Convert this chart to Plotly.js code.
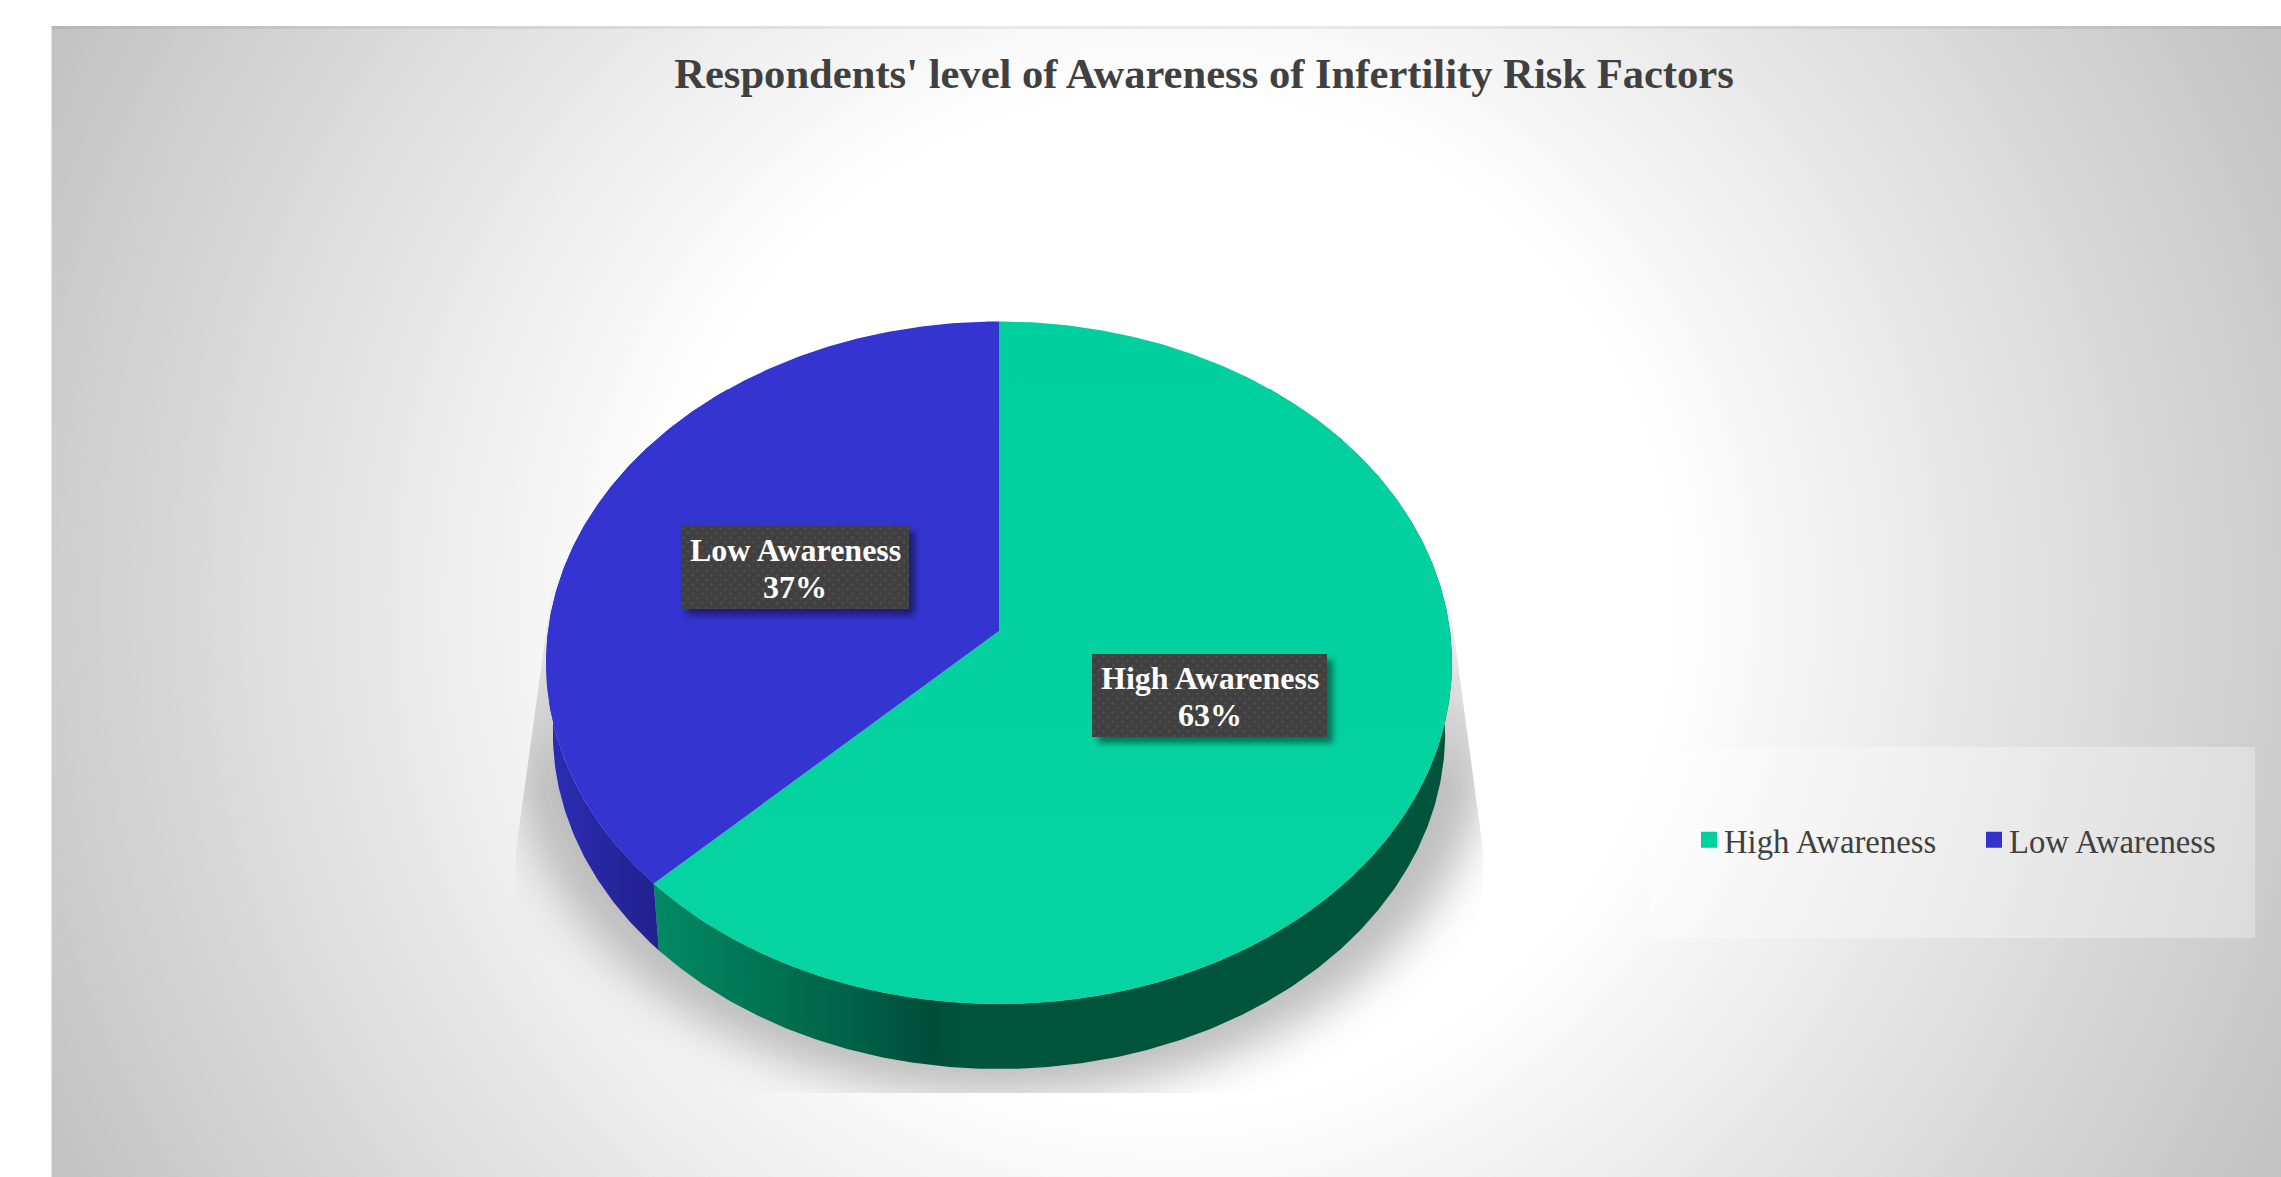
<!DOCTYPE html>
<html><head><meta charset="utf-8">
<script src="https://cdn.plot.ly/plotly-3.0.1.min.js"></script>
<style>html,body{margin:0;padding:0;background:#fff;overflow:hidden}#chart{width:2281px;height:1177px}</style>
</head><body><div id="chart"></div>
<script>
const chartTitle = "Respondents' level of Awareness of Infertility Risk Factors";
const categories = ["High Awareness", "Low Awareness"];
const shares = [62.7, 37.3];
const topColors = ["#03D2A0", "#3434D0"];
const legendColors = ["#00CF9E", "#3333CC"];
const W = 2281, H = 1177;
const FONT = "'Liberation Serif', serif";

// camera model for the tilted disc
const cam = {cx: 999, apexY: 631, rx: 451, ry: 338.3, k: 0.093, depth: 70.6, shrink: 0.985};
function rim(deg, lower) {
  const t = deg * Math.PI / 180, u = Math.sin(t), v = -Math.cos(t), d = 1 - cam.k * v;
  const s = lower ? cam.shrink : 1;
  return [cam.cx + s * cam.rx * u / d, cam.apexY + (lower ? cam.depth : 0) + s * cam.ry * v / d];
}
function arc(from, to, lower) {
  const n = Math.ceil(Math.abs(to - from) * 2), out = [];
  for (let i = 0; i <= n; i++) out.push(rim(from + (to - from) * i / n, lower));
  return out;
}
const total = shares.reduce((a, b) => a + b, 0);
const starts = [], ends = [];
shares.reduce((acc, s, i) => { starts[i] = acc; ends[i] = acc + s / total * 360; return ends[i]; }, 0);

function xy(pts) { return {x: pts.map(p => p[0]), y: pts.map(p => p[1])}; }
function cap(i) {
  return xy([[cam.cx, cam.apexY], ...arc(starts[i], ends[i], false), [cam.cx, cam.apexY]]);
}
function wall(a, b) {
  const up = arc(a, b, false), low = arc(b, a, true);
  return xy([...up, ...low, up[0]]);
}
const base = {type: "scatter", mode: "lines", fill: "toself", line: {width: 0}, hoverinfo: "skip", showlegend: false};
const split = ends[0];
const traces = [
  Object.assign({}, base, wall(40, split), {fillgradient: {type: "horizontal", start: 655, stop: 960,
    colorscale: [[0, "#008A64"], [0.4, "#00714F"], [0.72, "#005C44"], [0.9, "#004D38"], [1, "#00543C"]]}}),
  Object.assign({}, base, wall(split, 320), {fillgradient: {type: "horizontal", start: 550, stop: 664,
    colorscale: [[0, "#2C2CB4"], [0.6, "#25259C"], [1, "#20208C"]]}}),
  Object.assign({}, base, cap(0), {fillgradient: {type: "vertical", start: 321, stop: 1004,
    colorscale: [[0, "#00CF9E"], [1, "#06D4A2"]]}}),
  Object.assign({}, base, cap(1), {fillcolor: topColors[1]})
];
categories.forEach((c, i) => traces.push({type: "scatter", mode: "markers", x: [null], y: [null], name: c,
  marker: {symbol: "square", size: 16, color: legendColors[i]}, hoverinfo: "skip", showlegend: true}));

function uri(svg) { return "data:image/svg+xml;charset=utf-8," + encodeURIComponent(svg); }
const bgSvg = `<svg xmlns="http://www.w3.org/2000/svg" width="${W}" height="${H}" viewBox="0 0 ${W} ${H}">
<defs><radialGradient id="g" gradientUnits="userSpaceOnUse" cx="1166" cy="601" r="1254">
<stop offset="0.40" stop-color="#fff"/><stop offset="1" stop-color="#c2c2c2"/></radialGradient>
<filter id="b" x="-20%" y="-20%" width="140%" height="140%"><feGaussianBlur stdDeviation="22"/></filter>
<linearGradient id="mg" gradientUnits="userSpaceOnUse" x1="0" y1="582" x2="0" y2="790">
<stop offset="0" stop-color="#fff" stop-opacity="0.12"/><stop offset="1" stop-color="#fff" stop-opacity="1"/></linearGradient>
<mask id="m" maskUnits="userSpaceOnUse" x="0" y="0" width="${W}" height="${H}"><rect width="${W}" height="${H}" fill="url(#mg)"/></mask>
<clipPath id="c"><polygon points="553,582 1447,582 1483,850 1483,1093 516,1093 516,850"/></clipPath></defs>
<rect x="51" y="26" width="${W - 51}" height="${H - 26}" fill="url(#g)"/>
<rect x="51" y="26" width="${W - 51}" height="3" fill="#000" opacity="0.06"/>
<rect x="51" y="26" width="1" height="${H - 26}" fill="#fff" opacity="0.5"/>
<g clip-path="url(#c)"><g mask="url(#m)"><ellipse cx="1000" cy="735" rx="490" ry="362" fill="#b4b4b4" opacity="0.85" filter="url(#b)"/></g></g>
</svg>`;
function boxSvg(w, h) {
  return `<svg xmlns="http://www.w3.org/2000/svg" width="${w + 16}" height="${h + 16}" viewBox="0 0 ${w + 16} ${h + 16}">
<defs><pattern id="p" width="9.4" height="9.4" patternUnits="userSpaceOnUse">
<rect width="9.4" height="9.4" fill="#404040"/>
<rect x="1.4" y="1.4" width="1.7" height="1.7" fill="#5b5b5b"/><rect x="6.1" y="6.1" width="1.7" height="1.7" fill="#5b5b5b"/></pattern>
<filter id="s" x="-10%" y="-20%" width="120%" height="140%"><feGaussianBlur stdDeviation="3"/></filter></defs>
<rect x="6" y="6" width="${w}" height="${h}" fill="#000" opacity="0.45" filter="url(#s)"/>
<rect width="${w}" height="${h}" fill="url(#p)"/></svg>`;
}
function pix(src, x, y, w, h, layer) {
  return {source: src, xref: "paper", yref: "paper", x: x / W, y: 1 - y / H, sizex: w / W, sizey: h / H,
    xanchor: "left", yanchor: "top", sizing: "stretch", layer: layer, opacity: 1};
}
const lowBox = [681, 526, 228, 83], highBox = [1092, 654, 235, 83];
function labelLine(text, b, dy) {
  return {xref: "x", yref: "y", x: b[0] + b[2] / 2, y: b[1] + dy, showarrow: false, align: "center", yanchor: "middle",
    text: "<b>" + text + "</b>", font: {family: FONT, size: 32, color: "#FFFFFF"}};
}
function label(i, b) {
  return [labelLine(categories[i], b, 24), labelLine(Math.round(shares[i]) + "%", b, 61)];
}
const layout = {
  width: W, height: H, margin: {l: 0, r: 0, t: 0, b: 0},
  paper_bgcolor: "rgba(0,0,0,0)", plot_bgcolor: "rgba(0,0,0,0)",
  xaxis: {range: [0, W], visible: false, fixedrange: true},
  yaxis: {range: [H, 0], visible: false, fixedrange: true},
  title: {text: "<b>" + chartTitle + "</b>", x: 1204 / W, xanchor: "center", y: 1 - 73 / H, yanchor: "middle",
    font: {family: FONT, size: 42.6, color: "#404040"}},
  images: [pix(uri(bgSvg), 0, 0, W, H, "below"),
           pix(uri(boxSvg(lowBox[2], lowBox[3])), lowBox[0], lowBox[1], lowBox[2] + 16, lowBox[3] + 16, "above"),
           pix(uri(boxSvg(highBox[2], highBox[3])), highBox[0], highBox[1], highBox[2] + 16, highBox[3] + 16, "above")],
  shapes: [{type: "rect", xref: "x", yref: "y", x0: 1649, x1: 2255, y0: 747, y1: 938, line: {width: 0},
            fillcolor: "rgba(255,255,255,0.32)", layer: "below"}],
  annotations: [...label(0, highBox), ...label(1, lowBox)],
  showlegend: true,
  legend: {orientation: "h", x: 1684 / W, xanchor: "left", y: 1 - 840 / H, yanchor: "middle",
    bgcolor: "rgba(0,0,0,0)", borderwidth: 0, font: {family: FONT, size: 32.7, color: "#404040"},
    entrywidth: 240, entrywidthmode: "pixels", itemclick: false, itemdoubleclick: false}
};
Plotly.newPlot("chart", traces, layout, {displayModeBar: false, responsive: false}).then(() => {
  document.querySelectorAll(".legendsymbols").forEach(g => g.setAttribute("transform", "translate(5,0)"));
});
</script></body></html>
